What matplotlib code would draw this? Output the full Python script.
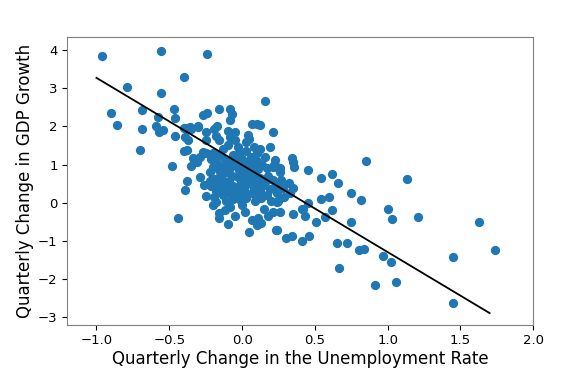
import numpy as np
import matplotlib
matplotlib.use("Agg")
from matplotlib import pyplot as plt

# Variacao trimestral do desemprego (x) e do PIB (y)
unemp_change = [
    -0.96, -0.56, -0.24, -0.40, -0.79, -0.56, -0.90, -0.86, -0.69, -0.69,
    -0.70, -0.58, -0.59, -0.57, -0.54, -0.47, -0.46, -0.46, -0.48, -0.40,
    -0.39, -0.37, -0.40, -0.35, -0.30, -0.27, -0.24, -0.16, -0.08, -0.07,
    -0.08, -0.25, -0.25, -0.19, -0.17, -0.18, -0.16, -0.10, -0.05, -0.08,
    -0.05, 0.065, 0.10, 0.16, 0.21, 0.04, 0.03, 0.05, -0.34, -0.31,
    -0.27, -0.25, -0.35, -0.38, -0.39, -0.29, -0.25, -0.26, -0.19, -0.18,
    -0.16, -0.16, -0.10, -0.08, -0.44, 0.05, 0.065, 0.11, 0.10, 0.13,
    0.24, 0.30, 0.34, 0.41, 0.46, 0.21, 0.26, 0.35, 0.42, 0.43,
    0.51, 0.57, 0.62, 0.65, 0.72, 0.745, 0.75, 0.60, 0.54, 0.54,
    0.615, 0.66, 0.45, 0.34, 0.35, 0.36, 0.225, 0.24, 0.21, 0.26,
    0.10, 0.32, 0.35, 0.33, 0.85, 1.13, 0.82, 0.45, 0.415, 1.00,
    1.03, 1.21, 1.63, 1.74, 0.80, 0.84, 0.665, 0.97, 1.02, 0.91,
    1.06, 1.45, 1.45, 0.12, -0.38, -0.36, -0.30, -0.38, -0.29, -0.33,
    # nucleo denso
    -0.21, -0.20, -0.22, -0.19, -0.21, -0.18, -0.17, -0.16, -0.15, -0.17,
    -0.15, -0.20, -0.16, -0.22, -0.13, -0.12, -0.13, -0.11, -0.14, -0.12,
    -0.10, -0.13, -0.09, -0.08, -0.07, -0.09, -0.06, -0.08, -0.06, -0.05,
    -0.10, -0.06, -0.11, -0.03, -0.02, -0.04, -0.02, -0.03, -0.01, -0.04,
    -0.02, 0.00, 0.01, 0.02, 0.00, 0.02, 0.01, 0.03, 0.04, 0.04,
    0.05, 0.03, 0.00, -0.01, 0.06, 0.07, 0.08, 0.06, 0.08, 0.07,
    0.10, 0.11, 0.12, 0.10, 0.12, 0.13, 0.09, 0.14, 0.14, 0.08,
    0.12, 0.16, 0.17, 0.18, 0.16, 0.19, 0.17, 0.20, 0.22, 0.21,
    0.23, 0.24, 0.26, 0.27, 0.28, 0.29, 0.25, 0.19, -0.20, -0.12,
    0.02, 0.15, 0.18, -0.05, -0.05, 0.03, 0.24, 0.23, 0.11,
]
gdp_change = [
    3.85, 3.98, 3.90, 3.28, 3.02, 2.87, 2.34, 2.04, 2.43, 1.94,
    1.37, 2.25, 2.01, 1.85, 1.90, 2.46, 2.23, 1.75, 0.97, 1.95,
    1.71, 1.64, 1.36, 1.92, 2.02, 2.30, 2.36, 2.46, 2.46, 2.32,
    2.17, 1.85, 1.64, 1.94, 2.02, 1.75, 1.64, 1.88, 1.86, 1.73,
    1.64, 2.05, 2.05, 2.67, 1.85, 1.77, 1.60, 1.66, 1.16, 1.08,
    1.34, 1.31, 0.96, 0.58, 0.34, 0.67, 0.18, 0.47, 0.16, 0.03,
    -0.27, -0.41, -0.55, -0.10, -0.40, -0.76, -0.45, -0.41, -0.58, -0.54,
    -0.71, -0.93, -0.87, -1.01, -0.87, -0.23, -0.25, -0.30, -0.17, -0.35,
    -0.49, -0.38, -0.20, -1.06, -1.06, -0.50, 0.26, 0.15, 0.09, 0.66,
    0.75, 0.53, 0.87, 1.16, 1.08, 0.95, 1.12, 0.93, 0.95, 0.90,
    1.31, 0.51, 0.38, 0.25, 1.09, 0.63, 0.08, 0.00, -0.17, -0.16,
    -0.42, -0.36, -0.49, -1.24, -1.24, -1.20, -1.71, -1.39, -1.55, -2.15,
    -2.07, -1.42, -2.63, 2.04, 1.95, 1.99, 1.99, 1.38, 1.20, 1.15,
    # nucleo denso
    1.15, 0.95, 0.80, 0.62, 0.45, 0.30, 1.05, 0.85, 0.70, 0.50,
    0.38, 1.30, 1.25, 0.58, 1.40, 1.15, 0.95, 0.80, 0.62, 0.48,
    0.35, 0.20, 1.05, 0.90, 0.70, 0.58, 0.45, 0.25, 1.25, 1.10,
    1.52, 0.10, 0.05, 1.45, 1.30, 1.00, 0.85, 0.68, 0.55, 0.40,
    0.22, 1.15, 0.95, 0.75, 0.62, 0.45, 0.30, 1.35, 1.05, 0.85,
    0.55, 0.15, -0.05, 0.05, 1.20, 0.95, 0.75, 0.62, 0.40, 0.25,
    1.10, 0.88, 0.65, 0.50, 0.30, 0.12, 0.05, 0.98, 0.45, 1.45,
    1.40, 1.20, 0.90, 0.70, 0.55, 0.35, 0.20, 0.05, 1.00, 0.60,
    0.45, 0.25, 0.80, 0.60, 0.40, 0.15, 0.05, 1.45, -0.05, -0.20,
    -0.25, -0.15, -0.35, -0.35, 0.29, 0.12, 0.03, -0.71, 0.25,
]

# Reta de regressao
fit_x = [-1.0, 1.7]
fit_slope = -2.28
fit_intercept = 0.99

fig = plt.figure(figsize=(5.87, 3.89), dpi=100)
ax = fig.add_axes([0.1147, 0.1653, 0.7938, 0.7387])

ax.scatter(unemp_change, gdp_change, s=32, color="#1f77b4")
linha_x = np.array(fit_x)
ax.plot(linha_x, fit_intercept + fit_slope * linha_x, color="black", linewidth=1.3)

ax.set_xlim(-1.2, 2.0)
ax.set_ylim(-3.19, 4.33)
ax.set_xticks([-1.0, -0.5, 0.0, 0.5, 1.0, 1.5, 2.0])
ax.set_yticks(range(-3, 5))
ax.tick_params(labelsize=9.5)
for s in ax.spines.values():
    s.set_color("#808080")

ax.set_xlabel("Quarterly Change in the Unemployment Rate", fontsize=12, labelpad=2)
ax.set_ylabel("Quarterly Change in GDP Growth", fontsize=12, labelpad=3)

fig.savefig("out.png", dpi=100)
